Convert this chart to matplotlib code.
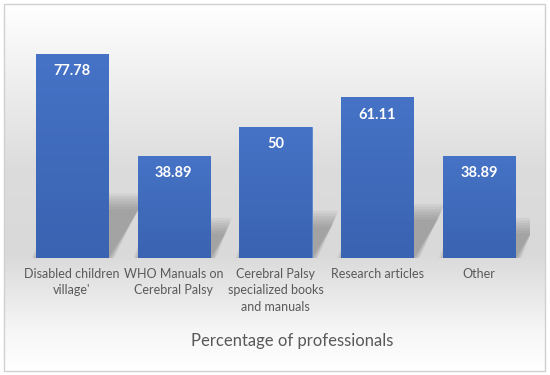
import numpy as np
import matplotlib.pyplot as plt
from matplotlib.colors import LinearSegmentedColormap
from matplotlib.patches import Polygon, Rectangle

# data
categories = ["Disabled children\nvillage'", "WHO Manuals on\nCerebral Palsy",
              "Cerebral Palsy\nspecialized books\nand manuals", "Research articles", "Other"]
values = [77.78, 38.89, 50, 61.11, 38.89]
labels = ["77.78", "38.89", "50", "61.11", "38.89"]
title = "Percentage of professionals"

W, H = 550, 375
fig = plt.figure(figsize=(5.5, 3.75), dpi=100)

# background panel with vertical gradient and thin border
bg = fig.add_axes([0, 0, 1, 1], zorder=0)
bg.set_xlim(0, W)
bg.set_ylim(H, 0)
bg.axis('off')
bg_cmap = LinearSegmentedColormap.from_list(
    'bg', [(0, '#ffffff'), (0.45, '#dcdcdc'), (0.68, '#d9d9d9'), (0.9, '#f7f7f7'), (1, '#ffffff')])
grad = np.linspace(0, 1, 256).reshape(-1, 1)
bg.imshow(grad, cmap=bg_cmap, aspect='auto', extent=(4, 545, 371, 4), interpolation='bilinear')
bg.add_patch(Rectangle((4, 4), 541, 367, fill=False, edgecolor='#d0d0d0', lw=1))

ax = fig.add_axes([21 / W, 117 / H, 509 / W, 0.6288], zorder=1)
ax.patch.set_alpha(0)
x = np.arange(len(categories))
ax.set_xlim(-0.5, len(categories) - 0.5)
ax.set_ylim(0, 90)

bars = ax.bar(x, values, width=0.71, color='#4472c4', edgecolor='#5a86d0', lw=0.6, zorder=3)

# bar gradient fill + cast shadow
bar_cmap = LinearSegmentedColormap.from_list('bar', ['#4673c6', '#3a63b1'])
for b, v in zip(bars, values):
    x0, w = b.get_x(), b.get_width()
    ax.imshow(grad, cmap=bar_cmap, aspect='auto', extent=(x0, x0 + w, 0, v),
              zorder=3.5, interpolation='bilinear')
    dx = 0.004 * v
    sh = 0.24 * v
    for k in range(7):
        e = 0.01 * (6 - k)
        ey = 1.0 * (6 - k)
        poly = Polygon([(x0 + 0.02 - e, 0), (x0 + w + e, 0),
                        (x0 + w + dx + e, sh + ey), (x0 + dx - e, sh + ey)],
                       closed=True, facecolor='#6e6e6e', edgecolor='none',
                       alpha=0.09, zorder=2)
        ax.add_patch(poly)

for b, lab in zip(bars, labels):
    ax.annotate(lab, (b.get_x() + b.get_width() / 2, b.get_height()),
                xytext=(0, -12), textcoords='offset points', ha='center', va='center',
                color='white', fontsize=10.5, fontweight='bold', family='Lato', zorder=5)

ax.set_xticks(x)
ax.set_xticklabels(categories, fontsize=9, color='#595959', family='Lato', linespacing=1.45)
ax.tick_params(axis='x', length=0, pad=7)
ax.set_yticks([])
for s in ax.spines.values():
    s.set_visible(False)

fig.text(292 / W, 1 - 341 / H, title, ha='center', va='center',
         fontsize=12, color='#595959', family='Lato')

fig.savefig('out.png', dpi=100)
